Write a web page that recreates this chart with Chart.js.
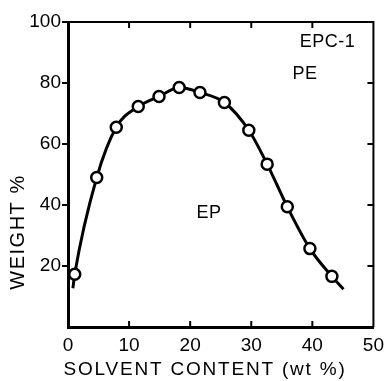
<!DOCTYPE html>
<html>
<head>
<meta charset="utf-8">
<script src="https://cdn.jsdelivr.net/npm/chart.js@4.4.1/dist/chart.umd.min.js"></script>
<style>
  html, body { margin: 0; padding: 0; background: #fff; }
</style>
</head>
<body>
<canvas id="myChart" width="391" height="381"></canvas>
<script>
// measured points (solvent wt%, weight %)
const solvent = [1.1, 4.7, 7.9, 11.5, 14.9, 18.2, 21.6, 25.6, 29.6, 32.6, 35.9, 39.6, 43.2]
const weight = [17.3, 49, 65.5, 72.3, 75.6, 78.5, 76.9, 73.6, 64.5, 53.4, 39.4, 25.7, 16.6]

// ends of the drawn curve past the first and last point
const curveStart = [0.8, 12.7]
const curveEnd = [45.1, 12.4]

const xTicks = [0, 10, 20, 30, 40, 50]
const yTicks = [20, 40, 60, 80, 100]

// region labels [text, x, y]
const notes = [
  ['EPC-1', 42.5, 93.4],
  ['PE', 38.8, 83],
  ['EP', 23.1, 37.4]
]

const font = 'Liberation Sans'

const points = solvent.map((s, i) => ({ x: s, y: weight[i] }))
const curve = [{ x: curveStart[0], y: curveStart[1] }]
  .concat(points)
  .concat([{ x: curveEnd[0], y: curveEnd[1] }])

// frame, tick marks, axis titles and region labels
const decor = {
  id: 'decor',
  afterDraw(chart) {
    const ctx = chart.ctx
    const a = chart.chartArea
    const sx = chart.scales.x
    const sy = chart.scales.y
    ctx.save()
    ctx.strokeStyle = '#000'
    ctx.lineWidth = 2
    ctx.beginPath()
    ctx.moveTo(a.left, a.top)
    ctx.lineTo(a.right, a.top)
    ctx.lineTo(a.right, a.bottom)
    ctx.stroke()

    ctx.lineWidth = 2
    ctx.beginPath()
    xTicks.forEach(v => {
      if (v === 0 || v === 50) return
      const px = sx.getPixelForValue(v)
      ctx.moveTo(px, a.bottom)
      ctx.lineTo(px, a.bottom - 6)
      ctx.moveTo(px, a.top)
      ctx.lineTo(px, a.top + 6)
    })
    yTicks.forEach(v => {
      const py = sy.getPixelForValue(v)
      ctx.moveTo(a.left, py)
      ctx.lineTo(a.left - 6, py)
      if (v < 100) {
        ctx.moveTo(a.right, py)
        ctx.lineTo(a.right - 6, py)
      }
    })
    ctx.stroke()

    ctx.fillStyle = '#000'
    ctx.font = '19px "' + font + '"'
    ctx.textAlign = 'center'
    ctx.textBaseline = 'middle'
    ctx.letterSpacing = '1.8px'
    ctx.fillText('SOLVENT CONTENT (wt %)', 205, 370)

    ctx.save()
    ctx.font = '20px "' + font + '"'
    ctx.letterSpacing = '1.5px'
    ctx.translate(18, 232)
    ctx.rotate(-Math.PI / 2)
    ctx.fillText('WEIGHT %', 0, 0)
    ctx.restore()

    ctx.letterSpacing = '0.5px'
    ctx.font = '18px "' + font + '"'
    notes.forEach(n => {
      ctx.fillText(n[0], sx.getPixelForValue(n[1]), sy.getPixelForValue(n[2]))
    })
    ctx.restore()
  }
}

new Chart(document.getElementById('myChart'), {
  type: 'scatter',
  data: {
    datasets: [
      {
        type: 'line',
        data: curve,
        borderColor: '#000',
        borderWidth: 3,
        pointRadius: 0,
        cubicInterpolationMode: 'monotone',
        fill: false,
        order: 2
      },
      {
        data: points,
        pointRadius: 5.5,
        pointBorderWidth: 2.5,
        pointBackgroundColor: '#fff',
        pointBorderColor: '#000',
        order: 1
      }
    ]
  },
  options: {
    responsive: false,
    animation: false,
    devicePixelRatio: 1,
    layout: { padding: { top: 22, right: 15, left: 0, bottom: 0 } },
    plugins: {
      legend: { display: false },
      tooltip: { enabled: false }
    },
    scales: {
      x: {
        type: 'linear',
        min: 0,
        max: 50,
        afterBuildTicks: s => { s.ticks = xTicks.map(v => ({ value: v })) },
        afterFit: s => { s.height = 54 },
        grid: { display: false, drawTicks: false },
        border: { display: true, color: '#000', width: 3 },
        ticks: {
          color: '#000',
          padding: 7,
          maxRotation: 0,
          font: { family: font, size: 19 }
        }
      },
      y: {
        min: 0,
        max: 100,
        afterBuildTicks: s => { s.ticks = yTicks.map(v => ({ value: v })) },
        afterFit: s => { s.width = 68 },
        grid: { display: false, drawTicks: false },
        border: { display: true, color: '#000', width: 3 },
        ticks: {
          color: '#000',
          padding: 7,
          font: { family: font, size: 19 }
        }
      }
    }
  },
  plugins: [decor]
})
</script>
</body>
</html>
